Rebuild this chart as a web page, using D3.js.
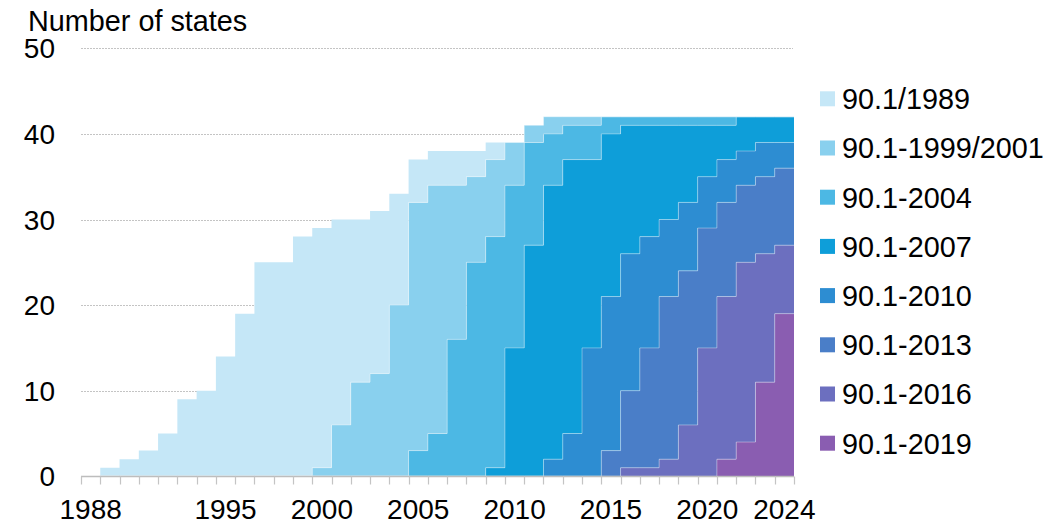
<!DOCTYPE html>
<html>
<head>
<meta charset="utf-8">
<script src="https://cdn.jsdelivr.net/npm/d3@7"></script>
<style>
  html, body { margin: 0; padding: 0; background: #fff; }
  svg { display: block; font-family: "Liberation Sans", Arial, sans-serif; }
</style>
</head>
<body>
<svg id="chart" width="1061" height="524"></svg>
<script>
// ---- data ----
const years = d3.range(1988, 2025);
const xTickYears = [1988, 1995, 2000, 2005, 2010, 2015, 2020, 2024];
const yTicks = [0, 10, 20, 30, 40, 50];
const seriesNames = ["90.1/1989", "90.1-1999/2001", "90.1-2004", "90.1-2007", "90.1-2010", "90.1-2013", "90.1-2016", "90.1-2019"];
const seriesColors = ["#c5e7f7", "#89d0ee", "#4cb8e4", "#0e9ed9", "#2d8dd2", "#4a7ec8", "#6c6fbf", "#8a5db1"];

//                1988                     1998                          2008                          2018                  2024
const v1989   = [0,1,2,3,5,9,10,14,19,25, 25,28,28,24,19,19,13,5,4,4,   3,2,0,0,0,0,0,0,0,0,          0,0,0,0,0,0,0];
const v1999   = [0,0,0,0,0,0,0,0,0,0,     0,0,1,6,11,12,20,29,29,18,    10,9,5,2,2,1,1,0,0,0,         0,0,0,0,0,0,0];
const v2004   = [0,0,0,0,0,0,0,0,0,0,     0,0,0,0,0,0,0,3,5,16,         25,27,19,12,6,4,4,2,1,1,      1,1,1,1,0,0,0];
const v2007   = [0,0,0,0,0,0,0,0,0,0,     0,0,0,0,0,0,0,0,0,0,          0,1,15,27,32,32,22,19,15,13,  11,9,6,4,4,3,3];
const v2010   = [0,0,0,0,0,0,0,0,0,0,     0,0,0,0,0,0,0,0,0,0,          0,0,0,0,2,5,15,18,16,13,      9,8,6,5,4,4,3];
const v2013   = [0,0,0,0,0,0,0,0,0,0,     0,0,0,0,0,0,0,0,0,0,          0,0,0,0,0,0,0,3,9,14,         19,18,14,11,9,9,9];
const v2016   = [0,0,0,0,0,0,0,0,0,0,     0,0,0,0,0,0,0,0,0,0,          0,0,0,0,0,0,0,0,1,1,          2,6,15,19,21,15,8];
const v2019   = [0,0,0,0,0,0,0,0,0,0,     0,0,0,0,0,0,0,0,0,0,          0,0,0,0,0,0,0,0,0,0,          0,0,0,2,4,11,19];
const seriesValues = [v1989, v1999, v2004, v2007, v2010, v2013, v2016, v2019];

// ---- build table ----
const table = years.map((yr, i) => {
  const row = { year: yr };
  seriesNames.forEach((n, k) => row[n] = seriesValues[k][i]);
  return row;
});

const svg = d3.select("#chart");
const margin = { left: 81, right: 794, top: 48.3, bottom: 476.3 };

const x = d3.scaleBand().domain(years).range([margin.left, margin.right]).paddingInner(0).paddingOuter(0);
const y = d3.scaleLinear().domain([0, 50]).range([margin.bottom, margin.top]);

// gridlines
svg.append("g").selectAll("line").data(yTicks.filter(t => t > 0)).join("line")
  .attr("x1", margin.left).attr("x2", margin.right - 1)
  .attr("y1", d => Math.round(y(d)) + 0.5).attr("y2", d => Math.round(y(d)) + 0.5)
  .attr("stroke", "#c4c4c4").attr("stroke-width", 1).attr("stroke-dasharray", "2,1");

// stack, bottom = newest
const stackKeys = seriesNames.slice().reverse();
const stacked = d3.stack().keys(stackKeys)(table);

function stepPoints(layer) {
  const pts = [];
  layer.forEach(d => {
    const x0 = x(d.data.year), x1 = x0 + x.bandwidth();
    pts.push({ x: x0, y0: d[0], y1: d[1] });
    pts.push({ x: x1, y0: d[0], y1: d[1] });
  });
  return pts;
}

const area = d3.area().x(p => p.x).y0(p => y(p.y0)).y1(p => y(p.y1));
const topLine = d3.line().x(p => p.x).y(p => y(p.y1));

const colorOf = n => seriesColors[seriesNames.indexOf(n)];

const layers = svg.append("g");
stacked.forEach(layer => {
  const pts = stepPoints(layer);
  layers.append("path").attr("d", area(pts)).attr("fill", colorOf(layer.key)).attr("stroke", "none");
});
// thin light edges on layer tops
stacked.forEach((layer, li) => {
  if (li === stacked.length - 1) return;
  const pts = stepPoints(layer);
  layers.append("path").attr("d", topLine(pts)).attr("fill", "none")
    .attr("stroke", "#ffffff").attr("stroke-opacity", 0.35).attr("stroke-width", 1);
});

// x axis
const axisY = Math.round(y(0)) + 0.5;
svg.append("line").attr("x1", margin.left).attr("x2", margin.right)
  .attr("y1", axisY).attr("y2", axisY).attr("stroke", "#bdbdbd").attr("stroke-width", 1.5);
const bounds = years.map(yr => x(yr)).concat([margin.right]);
svg.append("g").selectAll("line").data(bounds).join("line")
  .attr("x1", d => Math.round(d) + 0.5).attr("x2", d => Math.round(d) + 0.5)
  .attr("y1", axisY).attr("y2", axisY + 8)
  .attr("stroke", "#c4c4c4").attr("stroke-width", 1.2);

svg.append("g").selectAll("text").data(xTickYears).join("text")
  .attr("x", d => x(d) + x.bandwidth() / 2).attr("y", 519)
  .attr("text-anchor", "middle").attr("font-size", 28).attr("fill", "#000")
  .text(d => d);

// y labels
svg.append("g").selectAll("text").data(yTicks).join("text")
  .attr("x", 55).attr("y", d => y(d)).attr("dy", "0.36em")
  .attr("text-anchor", "end").attr("font-size", 28).attr("fill", "#000")
  .text(d => d);

svg.append("text").attr("x", 28).attr("y", 31).attr("font-size", 28.8).attr("fill", "#000")
  .text("Number of states");

// legend
const lg = svg.append("g");
seriesNames.forEach((n, i) => {
  const cy = 98.8 + 49.2 * i;
  lg.append("rect").attr("x", 820).attr("y", cy - 7.5).attr("width", 15).attr("height", 15).attr("fill", seriesColors[i]);
  lg.append("text").attr("x", 842).attr("y", cy).attr("dy", "0.36em").attr("font-size", 28.8).attr("fill", "#000").text(n);
});
</script>
</body>
</html>
